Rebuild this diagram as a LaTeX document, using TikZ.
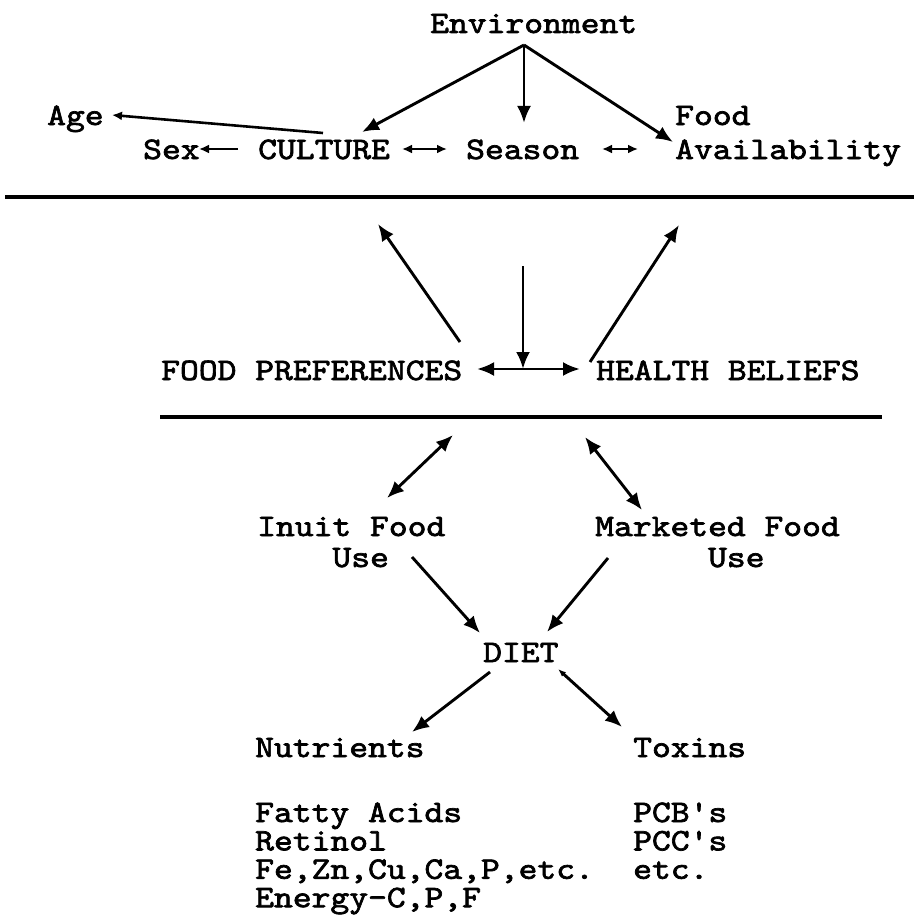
\documentclass[tikz,border=0pt]{standalone}
\usepackage{fontspec}
\newfontfamily\cour{lmmono10-regular.otf}[FakeStretch=1.145,FakeBold=2.2]
\usetikzlibrary{arrows.meta}
\begin{document}
\begin{tikzpicture}[x=1pt,y=-1pt,
  lbl/.style={anchor=base west, inner sep=0pt, font=\cour\fontsize{31.3}{31}\selectfont},
  lst/.style={anchor=base west, inner sep=0pt, font=\cour\fontsize{31.3}{28.4}\selectfont},
  conn/.style={line width=2.9pt, -{Latex[length=17pt,width=14pt]}},
  dconn/.style={line width=2.9pt, {Latex[length=17pt,width=14pt]}-{Latex[length=17pt,width=14pt]}},
  small/.style={line width=2.6pt, -{Latex[length=10pt,width=9pt]}},
  dsmall/.style={line width=2.6pt, {Latex[length=10pt,width=9pt]}-{Latex[length=10pt,width=9pt]}},
  rule/.style={line width=3.2pt}]
\fill[white] (0,0) rectangle (914,923);
\useasboundingbox (0,0) rectangle (914,923);

% nodes
\node[lbl] (env) at (430,33) {Environment};
\node[lbl] (age) at (47,125) {Age};
\node[lbl] (sex) at (143,159) {Sex};
\node[lbl] (culture) at (258,159) {CULTURE};
\node[lbl] (season) at (466,159) {Season};
\node[lbl] (food) at (675,125) {Food};
\node[lbl] (avail) at (675,159) {Availability};
\node[lbl] (pref) at (161,380) {FOOD PREFERENCES};
\node[lbl] (health) at (596,380) {HEALTH BELIEFS};
\node[lbl] (inuit) at (257,536) {\begin{tabular}[t]{@{}l@{}}Inuit Food\\\phantom{Inui}Use\end{tabular}};
\node[lbl] (market) at (595,536) {\begin{tabular}[t]{@{}l@{}}Marketed Food\\\phantom{Market}Use\end{tabular}};
\node[lbl] (diet) at (483,662) {DIET};
\node[lbl] (nutr) at (255,757) {Nutrients};
\node[lbl] (toxins) at (633,757) {Toxins};
\node[lst] (nlist) at (255,822) {\begin{tabular}[t]{@{}l@{}}Fatty Acids\\Retinol\\Fe,Zn,Cu,Ca,P,etc.\\Energy-C,P,F\end{tabular}};
\node[lst] (tlist) at (633,822) {\begin{tabular}[t]{@{}l@{}}PCB's\\PCC's\\etc.\end{tabular}};

% free ends
\coordinate (apex) at ([shift={(94,12)}]env.base west);
\coordinate (cu) at (378,224);
\coordinate (hu) at (679,225);
\coordinate (vt) at (523,266);
\coordinate (mid) at ([shift={(362,-11)}]pref.base west);
\coordinate (li) at (453,435);
\coordinate (lm) at (585,437);

% rules
\draw[rule] (5,197) -- (914,197);
\draw[rule] (160,417) -- (882,417);

% top connectors
\draw[conn] (apex) -- ([shift={(104,-27)}]culture.base west);
\draw[conn] (apex) -- ([shift={(58,-36)}]season.base west);
\draw[conn] (apex) -- ([shift={(-2,-17)}]avail.base west);
\draw[small] ([shift={(65,-26)}]culture.base west) -- ([shift={(65,-10)}]age.base west);
\draw[small] ([shift={(-20,-10)}]culture.base west) -- ([shift={(56,-10)}]sex.base west);
\draw[dsmall] ([shift={(144,-10)}]culture.base west) -- ([shift={(-19,-10)}]season.base west);
\draw[dsmall] ([shift={(136,-10)}]season.base west) -- ([shift={(-37,-10)}]avail.base west);

% middle
\draw[conn] ([shift={(299,-38)}]pref.base west) -- (cu);
\draw[conn] ([shift={(-6,-18)}]health.base west) -- (hu);
\draw[conn] (vt) -- (mid);
\draw[dconn] ([shift={(316,-11)}]pref.base west) -- ([shift={(-16,-11)}]health.base west);

% lower
\draw[dconn] (li) -- ([shift={(130,-38)}]inuit.base west);
\draw[dconn] (lm) -- ([shift={(47,-26)}]market.base west);
\draw[conn] ([shift={(155,21)}]inuit.base west) -- ([shift={(-3,-29)}]diet.base west);
\draw[conn] ([shift={(13,22)}]market.base west) -- ([shift={(64,-30)}]diet.base west);
\draw[conn] ([shift={(7,10)}]diet.base west) -- ([shift={(157,-25)}]nutr.base west);
\draw[line width=2.9pt, {Latex[length=8pt,width=6pt]}-{Latex[length=17pt,width=14pt]}] ([shift={(75,7)}]diet.base west) -- ([shift={(-11,-30)}]toxins.base west);
\end{tikzpicture}
\end{document}
